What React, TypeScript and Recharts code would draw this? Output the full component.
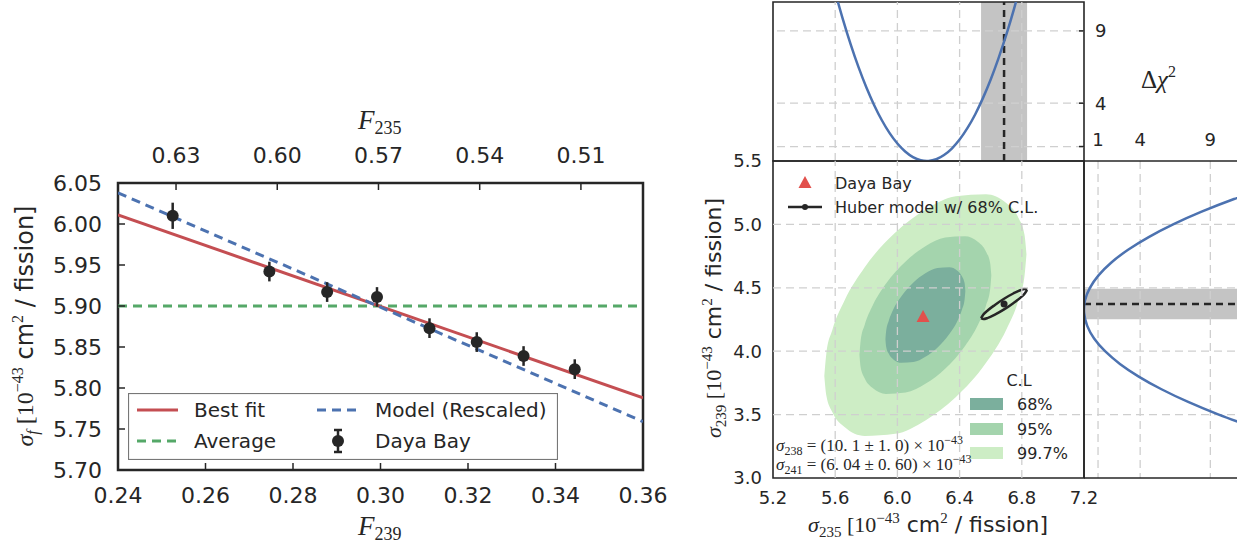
import React from "react";
import {
  Area,
  ComposedChart,
  ErrorBar,
  Legend,
  Line,
  ReferenceArea,
  ReferenceLine,
  Scatter,
  XAxis,
  YAxis,
} from "recharts";

const W = 1237;
const H = 548;
const SANS = "'DejaVu Sans', 'Liberation Sans', sans-serif";
const SERIF = "'Liberation Serif', 'DejaVu Serif', serif";
const INK = "#262626";
const RED = "#c44e52";
const BLUE = "#4c72b0";
const GREEN = "#55a868";
const GRID = "#cfcfcf";
const BAND = "#c4c4c4";
const CL68 = "#7baf9d";
const CL95 = "#a4d4ad";
const CL997 = "#cdedc5";
const TRI = "#e2504c";

// ---------- left panel: sigma_f vs F239 ----------
const f239Ticks = [0.24, 0.26, 0.28, 0.3, 0.32, 0.34, 0.36];
const f235Ticks = [0.63, 0.6, 0.57, 0.54, 0.51];
const sigmaFTicks = [5.7, 5.75, 5.8, 5.85, 5.9, 5.95, 6.0, 6.05];

const dayaBayF239 = [0.2525, 0.2746, 0.2878, 0.2992, 0.3112, 0.322, 0.3327, 0.3444];
const dayaBaySigma = [6.01, 5.942, 5.917, 5.911, 5.873, 5.856, 5.839, 5.823];
const dayaBayErr = [0.016, 0.012, 0.012, 0.012, 0.012, 0.012, 0.012, 0.012];

const lineEndsF239 = [0.24, 0.36];
const bestFitSigma = [6.011, 5.788];
const modelSigma = [6.038, 5.759];
const averageSigma = 5.9;

// ---------- right panels: sigma239 vs sigma235 ----------
const s235Ticks = [5.2, 5.6, 6.0, 6.4, 6.8, 7.2];
const s239Ticks = [3.0, 3.5, 4.0, 4.5, 5.0, 5.5];
const chiTicks = [1, 4, 9];

const dayaBayPoint = { s235: 6.165, s239: 4.27 };
const huberPoint = { s235: 6.686, s239: 4.372 };
const huberBand235 = [6.538, 6.834];
const huberBand239 = [4.252, 4.492];

// 99.7% C.L. contour, read as lower / upper sigma239 at each sigma235
const cl997X = [5.53, 5.543, 5.582, 5.66, 5.79, 5.985, 6.18, 6.375, 6.57, 6.7, 6.778, 6.817, 6.83];
const cl997Low = [3.805, 3.65, 3.518, 3.402, 3.332, 3.348, 3.454, 3.636, 3.908, 4.17, 4.401, 4.59, 4.765];
const cl997High = [3.805, 3.98, 4.169, 4.4, 4.662, 4.934, 5.116, 5.222, 5.238, 5.168, 5.052, 4.921, 4.765];

const cl95X = [5.756, 5.764, 5.79, 5.841, 5.926, 6.053, 6.18, 6.307, 6.434, 6.519, 6.57, 6.596, 6.604];
const cl95Low = [3.972, 3.871, 3.785, 3.709, 3.663, 3.674, 3.743, 3.862, 4.039, 4.21, 4.361, 4.484, 4.598];
const cl95High = [3.972, 4.086, 4.209, 4.36, 4.531, 4.708, 4.827, 4.896, 4.907, 4.861, 4.785, 4.699, 4.598];

const cl68X = [5.923, 5.928, 5.944, 5.974, 6.026, 6.103, 6.18, 6.257, 6.334, 6.386, 6.416, 6.432, 6.437];
const cl68Low = [4.095, 4.033, 3.981, 3.935, 3.908, 3.914, 3.956, 4.028, 4.136, 4.239, 4.331, 4.406, 4.475];
const cl68High = [4.095, 4.164, 4.239, 4.331, 4.434, 4.542, 4.614, 4.656, 4.662, 4.635, 4.589, 4.537, 4.475];

const huberX = [6.538, 6.553, 6.582, 6.627, 6.686, 6.745, 6.79, 6.819, 6.834];
const huberLow = [4.26, 4.253, 4.263, 4.289, 4.33, 4.379, 4.421, 4.455, 4.484];
const huberHigh = [4.26, 4.289, 4.323, 4.365, 4.414, 4.455, 4.481, 4.491, 4.484];

// delta chi^2 profile along sigma235 (top panel)
const profX235 = [5.6, 5.65, 5.7, 5.75, 5.8, 5.85, 5.9, 5.95, 6.0, 6.05, 6.1, 6.15, 6.2, 6.25, 6.3, 6.35, 6.4, 6.45, 6.5, 6.55, 6.6, 6.65, 6.7, 6.75, 6.8];
const profChi235 = [11.67, 9.78, 8.05, 6.49, 5.1, 3.88, 2.82, 1.93, 1.21, 0.66, 0.27, 0.05, 0.0, 0.12, 0.41, 0.86, 1.48, 2.27, 3.22, 4.35, 5.64, 7.1, 8.72, 10.52, 12.48];

// delta chi^2 profile along sigma239 (right panel)
const profY239 = [3.4, 3.5, 3.6, 3.7, 3.8, 3.9, 4.0, 4.1, 4.2, 4.3, 4.4, 4.5, 4.6, 4.7, 4.8, 4.9, 5.0, 5.1, 5.2, 5.3];
const profChi239 = [12.06, 9.6, 7.42, 5.52, 3.9, 2.56, 1.5, 0.72, 0.23, 0.01, 0.07, 0.42, 1.05, 1.95, 3.14, 4.61, 6.35, 8.38, 10.69, 13.28];

// ---------- tables for recharts ----------
const dayaBayRows = dayaBayF239.map((x, i) => ({ x, y: dayaBaySigma[i], err: dayaBayErr[i] }));
const bestFitRows = lineEndsF239.map((x, i) => ({ x, y: bestFitSigma[i] }));
const modelRows = lineEndsF239.map((x, i) => ({ x, y: modelSigma[i] }));
const averageRows = lineEndsF239.map((x) => ({ x, y: averageSigma }));
// anchors the secondary F235 axis so that recharts draws it
const f235AnchorRows = f235Ticks.map((x) => ({ x, y: averageSigma }));

const rangeRows = (xs: number[], lo: number[], hi: number[]) =>
  xs.map((x, i) => ({ x, r: [lo[i], hi[i]] }));
const cl997Rows = rangeRows(cl997X, cl997Low, cl997High);
const cl95Rows = rangeRows(cl95X, cl95Low, cl95High);
const cl68Rows = rangeRows(cl68X, cl68Low, cl68High);
const huberRows = rangeRows(huberX, huberLow, huberHigh);

const prof235Rows = profX235.map((x, i) => ({ x, y: profChi235[i] }));
const prof239Rows = profY239.map((y, i) => ({ x: profChi239[i], y }));

// plot boxes (pixels)
const LP = { left: 118, top: 183, right: 643, bottom: 470 };
const MP = { left: 773, top: 161, right: 1084, bottom: 478 };
const TP = { top: 2 };

const fmt2 = (v: number) => v.toFixed(2);
const fmt1 = (v: number) => v.toFixed(1);

function xTick(o: { axisY: number; baseline: number; size: number; len: number; dir: number; fmt: (v: number) => string }) {
  return (p: any) => (
    <g>
      {o.len > 0 && (
        <line x1={p.x} x2={p.x} y1={o.axisY} y2={o.axisY + o.dir * o.len} stroke={INK} strokeWidth={1.5} />
      )}
      <text x={p.x} y={o.baseline} textAnchor="middle" fontFamily={SANS} fontSize={o.size} fill={INK}>
        {o.fmt(p.payload.value)}
      </text>
    </g>
  );
}

function yTick(o: { axisX: number; textX: number; anchor: "start" | "end"; size: number; len: number; dir: number; fmt: (v: number) => string }) {
  return (p: any) => (
    <g>
      {o.len > 0 && (
        <line x1={o.axisX} x2={o.axisX + o.dir * o.len} y1={p.y} y2={p.y} stroke={INK} strokeWidth={1.5} />
      )}
      <text x={o.textX} y={p.y + o.size * 0.36} textAnchor={o.anchor} fontFamily={SANS} fontSize={o.size} fill={INK}>
        {o.fmt(p.payload.value)}
      </text>
    </g>
  );
}

const dot = (r: number) => (p: any) => <circle cx={p.cx} cy={p.cy} r={r} fill={INK} />;
const noMark = () => <g />;
const triangle = (p: any) => (
  <polygon points={`${p.cx},${p.cy - 7} ${p.cx - 6.5},${p.cy + 5} ${p.cx + 6.5},${p.cy + 5}`} fill={TRI} />
);

function LeftLegend() {
  return (
    <svg width={430} height={67} style={{ display: "block" }}>
      <rect x={0.5} y={0.5} width={429} height={66} fill="#fff" fillOpacity={0.85} stroke="#777" strokeWidth={1.2} />
      <g fontFamily={SANS} fontSize={20} fill={INK}>
        <line x1={9} x2={50} y1={17} y2={17} stroke={RED} strokeWidth={3} />
        <text x={66} y={24}>Best fit</text>
        <line x1={9} x2={50} y1={48} y2={48} stroke={GREEN} strokeWidth={3} strokeDasharray="9 6" />
        <text x={66} y={55}>Average</text>
        <line x1={189} x2={230} y1={17} y2={17} stroke={BLUE} strokeWidth={3} strokeDasharray="9 6" />
        <text x={247} y={24}>Model (Rescaled)</text>
        <line x1={210} x2={210} y1={37} y2={59} stroke={INK} strokeWidth={2.5} />
        <line x1={206} x2={214} y1={37} y2={37} stroke={INK} strokeWidth={2.5} />
        <line x1={206} x2={214} y1={59} y2={59} stroke={INK} strokeWidth={2.5} />
        <circle cx={210} cy={48} r={6} fill={INK} />
        <text x={247} y={55}>Daya Bay</text>
      </g>
    </svg>
  );
}

function PointLegend() {
  return (
    <svg width={300} height={50} style={{ display: "block" }}>
      <g fontFamily={SANS} fontSize={16} fill={INK}>
        <polygon points="25,6 18.5,18 31.5,18" fill={TRI} />
        <text x={55} y={19}>Daya Bay</text>
        <line x1={8} x2={42} y1={37} y2={37} stroke={INK} strokeWidth={2.5} />
        <circle cx={25} cy={37} r={3} fill={INK} />
        <text x={55} y={43}>Huber model w/ 68% C.L.</text>
      </g>
    </svg>
  );
}

function CLLegend() {
  return (
    <svg width={120} height={95} style={{ display: "block" }}>
      <g fontFamily={SANS} fontSize={16} fill={INK}>
        <text x={54} y={18} textAnchor="middle">C.L</text>
        <rect x={5} y={30} width={33} height={12} fill={CL68} />
        <text x={52} y={42}>68%</text>
        <rect x={5} y={55} width={33} height={12} fill={CL95} />
        <text x={52} y={67}>95%</text>
        <rect x={5} y={79} width={33} height={12} fill={CL997} />
        <text x={52} y={91}>99.7%</text>
      </g>
    </svg>
  );
}

const legendProps = { layout: "horizontal" as const, verticalAlign: "middle" as const, align: "center" as const };
const layer: React.CSSProperties = { position: "absolute", left: 0, top: 0 };

function LeftPanel() {
  return (
    <div style={layer}>
      <ComposedChart
        width={W}
        height={H}
        margin={{ left: LP.left - 60, top: LP.top - 40, right: W - LP.right, bottom: H - LP.bottom - 40 }}
      >
        <XAxis
          dataKey="x"
          type="number"
          domain={[0.24, 0.36]}
          ticks={f239Ticks}
          interval={0}
          height={40}
          axisLine={false}
          tickLine={false}
          allowDataOverflow
          tick={xTick({ axisY: LP.bottom, baseline: 503, size: 22, len: 7, dir: -1, fmt: fmt2 })}
        />
        <XAxis
          xAxisId="top"
          dataKey="x"
          orientation="top"
          type="number"
          domain={[0.4916, 0.6472]}
          reversed
          ticks={f235Ticks}
          interval={0}
          height={40}
          axisLine={false}
          tickLine={false}
          allowDataOverflow
          tick={xTick({ axisY: LP.top, baseline: 163, size: 22, len: 7, dir: 1, fmt: fmt2 })}
        />
        <YAxis
          dataKey="y"
          type="number"
          domain={[5.7, 6.05]}
          ticks={sigmaFTicks}
          interval={0}
          width={60}
          axisLine={false}
          tickLine={false}
          allowDataOverflow
          tick={yTick({ axisX: LP.left, textX: 102, anchor: "end", size: 22, len: 7, dir: 1, fmt: fmt2 })}
        />
        <Scatter xAxisId="top" data={f235AnchorRows} dataKey="y" shape={noMark} isAnimationActive={false} />
        <Line data={averageRows} dataKey="y" stroke={GREEN} strokeWidth={3} strokeDasharray="9 6" dot={false} isAnimationActive={false} />
        <Line data={bestFitRows} dataKey="y" stroke={RED} strokeWidth={3} dot={false} isAnimationActive={false} />
        <Line data={modelRows} dataKey="y" stroke={BLUE} strokeWidth={3} strokeDasharray="9 6" dot={false} isAnimationActive={false} />
        <Scatter data={dayaBayRows} dataKey="y" fill={INK} shape={dot(6)} isAnimationActive={false}>
          <ErrorBar dataKey="err" direction="y" width={0} stroke={INK} strokeWidth={2.5} />
        </Scatter>
        <ReferenceArea x1={0.24} x2={0.36} y1={5.7} y2={6.05} fill="none" stroke={INK} strokeWidth={2.5} ifOverflow="visible" />
        <Legend {...legendProps} wrapperStyle={{ left: 128, top: 393, width: 430, height: 67 }} content={() => <LeftLegend />} />
      </ComposedChart>
    </div>
  );
}

function MainPanel() {
  return (
    <div style={layer}>
      <ComposedChart
        width={W}
        height={H}
        margin={{ left: MP.left - 40, top: MP.top, right: W - MP.right, bottom: H - MP.bottom - 30 }}
      >
        <XAxis
          dataKey="x"
          type="number"
          domain={[5.2, 7.2]}
          ticks={s235Ticks}
          interval={0}
          height={30}
          axisLine={false}
          tickLine={false}
          allowDataOverflow
          tick={xTick({ axisY: MP.bottom, baseline: 504, size: 18, len: 0, dir: -1, fmt: fmt1 })}
        />
        <YAxis
          dataKey="y"
          type="number"
          domain={[3.0, 5.5]}
          ticks={s239Ticks}
          interval={0}
          width={40}
          axisLine={false}
          tickLine={false}
          allowDataOverflow
          tick={yTick({ axisX: MP.left, textX: 762, anchor: "end", size: 18, len: 0, dir: 1, fmt: fmt1 })}
        />
        {[5.6, 6.0, 6.4, 6.8].map((v) => (
          <ReferenceLine key={"gx" + v} x={v} stroke={GRID} strokeWidth={1.3} strokeDasharray="8 5" />
        ))}
        {[3.5, 4.0, 4.5, 5.0].map((v) => (
          <ReferenceLine key={"gy" + v} y={v} stroke={GRID} strokeWidth={1.3} strokeDasharray="8 5" />
        ))}
        <Area data={cl997Rows} dataKey="r" type="monotone" fill={CL997} fillOpacity={1} stroke="none" isAnimationActive={false} />
        <Area data={cl95Rows} dataKey="r" type="monotone" fill={CL95} fillOpacity={1} stroke="none" isAnimationActive={false} />
        <Area data={cl68Rows} dataKey="r" type="monotone" fill={CL68} fillOpacity={1} stroke="none" isAnimationActive={false} />
        <Area data={huberRows} dataKey="r" type="monotone" fill="none" stroke={INK} strokeWidth={2.5} isAnimationActive={false} />
        <Scatter data={[{ x: huberPoint.s235, y: huberPoint.s239 }]} dataKey="y" shape={dot(3.5)} isAnimationActive={false} />
        <Scatter data={[{ x: dayaBayPoint.s235, y: dayaBayPoint.s239 }]} dataKey="y" shape={triangle} isAnimationActive={false} />
        <ReferenceArea x1={5.2} x2={7.2} y1={3.0} y2={5.5} fill="none" stroke={INK} strokeWidth={1.6} ifOverflow="visible" />
        <Legend {...legendProps} wrapperStyle={{ left: 780, top: 170, width: 300, height: 50 }} content={() => <PointLegend />} />
      </ComposedChart>
      <div style={{ position: "absolute", left: 965, top: 368 }}>
        <CLLegend />
      </div>
    </div>
  );
}

function TopPanel() {
  return (
    <div style={layer}>
      <ComposedChart
        width={W}
        height={H}
        margin={{ left: MP.left, top: TP.top, right: W - MP.right - 40, bottom: H - MP.top }}
      >
        <XAxis dataKey="x" type="number" domain={[5.2, 7.2]} hide allowDataOverflow />
        <YAxis
          orientation="right"
          type="number"
          domain={[0, 11]}
          ticks={chiTicks}
          interval={0}
          width={40}
          axisLine={false}
          tickLine={false}
          allowDataOverflow
          tick={yTick({ axisX: MP.right, textX: 1095, anchor: "start", size: 18, len: 5, dir: -1, fmt: (v) => (v === 1 ? "" : String(v)) })}
        />
        {[5.6, 6.0, 6.4, 6.8].map((v) => (
          <ReferenceLine key={"tx" + v} x={v} stroke={GRID} strokeWidth={1.3} strokeDasharray="8 5" />
        ))}
        {chiTicks.map((v) => (
          <ReferenceLine key={"ty" + v} y={v} stroke={GRID} strokeWidth={1.3} strokeDasharray="8 5" />
        ))}
        <ReferenceArea x1={huberBand235[0]} x2={huberBand235[1]} y1={0} y2={11} fill={BAND} fillOpacity={1} stroke="none" />
        <ReferenceLine x={huberPoint.s235} stroke={INK} strokeWidth={2.5} strokeDasharray="7 5" />
        <Line data={prof235Rows} dataKey="y" type="natural" stroke={BLUE} strokeWidth={2.5} dot={false} isAnimationActive={false} />
        <ReferenceArea x1={5.2} x2={7.2} y1={0} y2={11} fill="none" stroke={INK} strokeWidth={1.6} ifOverflow="visible" />
      </ComposedChart>
    </div>
  );
}

function RightPanel() {
  return (
    <div style={layer}>
      <ComposedChart
        width={W}
        height={H}
        margin={{ left: MP.right, top: MP.top - 30, right: 0, bottom: H - MP.bottom }}
      >
        <XAxis
          dataKey="x"
          orientation="top"
          type="number"
          domain={[0, 10.9]}
          ticks={chiTicks}
          interval={0}
          height={30}
          axisLine={false}
          tickLine={false}
          allowDataOverflow
          tick={xTick({ axisY: MP.top, baseline: 146, size: 18, len: 0, dir: 1, fmt: (v) => String(v) })}
        />
        <YAxis dataKey="y" type="number" domain={[3.0, 5.5]} hide allowDataOverflow />
        {chiTicks.map((v) => (
          <ReferenceLine key={"rx" + v} x={v} stroke={GRID} strokeWidth={1.3} strokeDasharray="8 5" />
        ))}
        {[3.5, 4.0, 4.5, 5.0].map((v) => (
          <ReferenceLine key={"ry" + v} y={v} stroke={GRID} strokeWidth={1.3} strokeDasharray="8 5" />
        ))}
        <ReferenceArea x1={0} x2={10.9} y1={huberBand239[0]} y2={huberBand239[1]} fill={BAND} fillOpacity={1} stroke="none" />
        <ReferenceLine y={huberPoint.s239} stroke={INK} strokeWidth={2.5} strokeDasharray="7 5" />
        <Line data={prof239Rows} dataKey="y" type="natural" stroke={BLUE} strokeWidth={2.5} dot={false} isAnimationActive={false} />
        <ReferenceLine x={0} stroke={INK} strokeWidth={1.6} ifOverflow="visible" />
        <ReferenceLine y={5.5} stroke={INK} strokeWidth={1.6} ifOverflow="visible" />
        <ReferenceLine y={3.0} stroke={INK} strokeWidth={1.6} ifOverflow="visible" />
      </ComposedChart>
    </div>
  );
}

function Titles() {
  return (
    <svg width={W} height={H} style={{ ...layer, pointerEvents: "none" }}>
      <g fill={INK}>
        {/* left panel */}
        <text x={358} y={129} fontFamily={SERIF}>
          <tspan fontSize={27} fontStyle="italic">F</tspan>
          <tspan fontSize={18} dy={5}>235</tspan>
        </text>
        <text x={358} y={535} fontFamily={SERIF}>
          <tspan fontSize={27} fontStyle="italic">F</tspan>
          <tspan fontSize={18} dy={5}>239</tspan>
        </text>
        <text transform="translate(33,326) rotate(-90)" textAnchor="middle" fontSize={24}>
          <tspan fontFamily={SERIF} fontStyle="italic">σ</tspan>
          <tspan fontFamily={SERIF} fontStyle="italic" fontSize={16} dy={5}>f</tspan>
          <tspan fontFamily={SERIF} dy={-5}> [10</tspan>
          <tspan fontFamily={SERIF} fontSize={16} dy={-10}>−43</tspan>
          <tspan fontFamily={SANS} dy={10}> cm</tspan>
          <tspan fontFamily={SERIF} fontSize={16} dy={-10}>2</tspan>
          <tspan fontFamily={SANS} dy={10}> / fission]</tspan>
        </text>

        {/* right panels */}
        <text x={928} y={532} textAnchor="middle" fontSize={22}>
          <tspan fontFamily={SERIF} fontStyle="italic">σ</tspan>
          <tspan fontFamily={SERIF} fontSize={15} dy={5}>235</tspan>
          <tspan fontFamily={SERIF} dy={-5}> [10</tspan>
          <tspan fontFamily={SERIF} fontSize={15} dy={-9}>−43</tspan>
          <tspan fontFamily={SANS} dy={9}> cm</tspan>
          <tspan fontFamily={SERIF} fontSize={15} dy={-9}>2</tspan>
          <tspan fontFamily={SANS} dy={9}> / fission]</tspan>
        </text>
        <text transform="translate(721,318) rotate(-90)" textAnchor="middle" fontSize={22}>
          <tspan fontFamily={SERIF} fontStyle="italic">σ</tspan>
          <tspan fontFamily={SERIF} fontSize={15} dy={5}>239</tspan>
          <tspan fontFamily={SERIF} dy={-5}> [10</tspan>
          <tspan fontFamily={SERIF} fontSize={15} dy={-9}>−43</tspan>
          <tspan fontFamily={SANS} dy={9}> cm</tspan>
          <tspan fontFamily={SERIF} fontSize={15} dy={-9}>2</tspan>
          <tspan fontFamily={SANS} dy={9}> / fission]</tspan>
        </text>
        <text x={1141} y={88} fontFamily={SERIF} fontSize={25}>
          <tspan>Δ</tspan>
          <tspan fontStyle="italic">χ</tspan>
          <tspan fontSize={16} dy={-11}>2</tspan>
        </text>
        <text x={776} y={451} fontFamily={SERIF} fontSize={17}>
          <tspan fontStyle="italic">σ</tspan>
          <tspan fontSize={12} dy={4}>238</tspan>
          <tspan dy={-4}> = (10. 1 ± 1. 0) × 10</tspan>
          <tspan fontSize={12} dy={-7}>−43</tspan>
        </text>
        <text x={776} y={470} fontFamily={SERIF} fontSize={17}>
          <tspan fontStyle="italic">σ</tspan>
          <tspan fontSize={12} dy={4}>241</tspan>
          <tspan dy={-4}> = (6. 04 ± 0. 60) × 10</tspan>
          <tspan fontSize={12} dy={-7}>−43</tspan>
        </text>
      </g>
    </svg>
  );
}

export default function App() {
  return (
    <div style={{ position: "absolute", left: 0, top: 0, width: W, height: H, background: "#fff", overflow: "hidden" }}>
      <TopPanel />
      <RightPanel />
      <MainPanel />
      <LeftPanel />
      <Titles />
    </div>
  );
}
